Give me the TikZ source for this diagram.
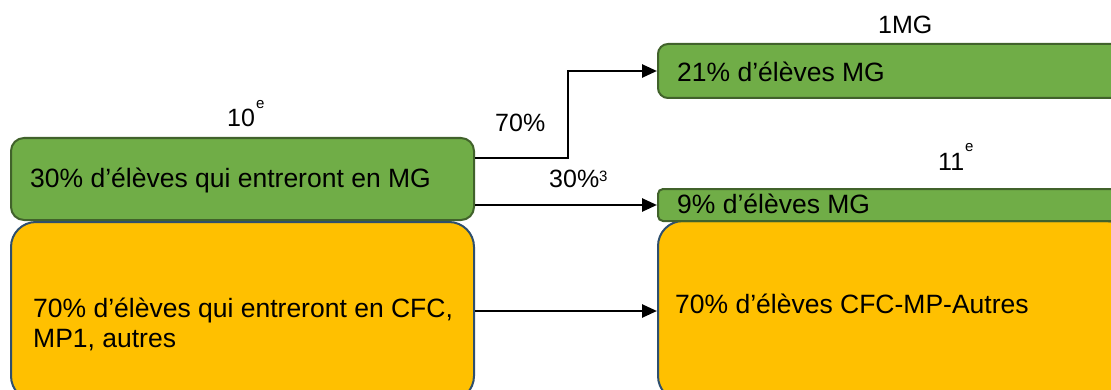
\documentclass[tikz,border=0pt]{standalone}
\usepackage{fontspec}
\setmainfont{Liberation Sans}
\usetikzlibrary{positioning,arrows.meta}
\definecolor{mggreen}{HTML}{70AD47}
\definecolor{mgborder}{HTML}{41622B}
\definecolor{cfcorange}{HTML}{FFC000}
\definecolor{cfcborder}{HTML}{2E4F6E}

\begin{document}
\begin{tikzpicture}[x=1pt,y=1pt,
    greenbox/.style={draw=mgborder,fill=mggreen,line width=2pt,anchor=north west,inner sep=0pt},
    orangebox/.style={draw=cfcborder,fill=cfcorange,line width=2pt,anchor=north west,inner sep=0pt,rounded corners=25pt},
    boxtext/.style={anchor=base west,inner sep=0pt,font=\fontsize{26.5}{30}\selectfont,align=left},
    headtext/.style={anchor=base west,inner sep=0pt,font=\fontsize{25}{30}\selectfont},
    flow/.style={line width=2.6pt,-{Triangle[length=15pt,width=13pt]}}]
    \useasboundingbox (0,0) rectangle (1111,389);
    \clip (0,0) rectangle (1111,389);

    % boxes, orange first so the green ones sit on top
    \node[orangebox,minimum width=463pt,minimum height=179pt] (cfc10) at (10,168) {};
    \node[orangebox,minimum width=473pt,minimum height=180pt] (cfc11) at (657,169) {};
    \node[greenbox,rounded corners=13pt,minimum width=463pt,minimum height=82pt] (mg10) at (10,252) {};
    \node[greenbox,rounded corners=10pt,minimum width=473pt,minimum height=54pt] (mg1) at (657,346) {};
    \node[greenbox,rounded corners=5pt,minimum width=473pt,minimum height=32pt] (mg11) at (657,201) {};

    % box texts
    \node[boxtext] (tmg10) at ([shift={(20,-50)}]mg10.north west) {30\% d’élèves qui entreront en MG};
    \node[boxtext] (tcfc10) at ([shift={(23,-126)}]cfc10.north west) {70\% d’élèves qui entreront en CFC,\\MP1, autres};
    \node[boxtext] (tmg1) at ([shift={(20,-39)}]mg1.north west) {21\% d’élèves MG};
    \node[boxtext] (tmg11) at ([shift={(20,-25)}]mg11.north west) {9\% d’élèves MG};
    \node[boxtext] (tcfc11) at ([shift={(18,-93)}]cfc11.north west) {70\% d’élèves CFC-MP-Autres};

    % headings and rates
    \node[headtext] (h10) at (227,262) {10\hspace{1pt}\raisebox{18pt}{\fontsize{15}{15}\selectfont e}};
    \node[headtext] (h1mg) at (878,355) {1MG};
    \node[headtext] (h11) at (938,219) {11\hspace{1pt}\raisebox{18pt}{\fontsize{15}{15}\selectfont e}};
    \node[headtext] (p70) at (495,258) {70\%};
    \node[headtext] (p30) at (549,202) {30\%\raisebox{5pt}{\fontsize{15}{15}\selectfont 3}};

    % connectors
    \draw[flow] ([yshift=21pt]mg10.east) -- ++(93,0) |- (mg1.west);
    \draw[flow] (mg10.east |- mg11.west) -- (mg11.west);
    \draw[flow] (cfc10.east |- cfc11.west) -- (cfc11.west);
\end{tikzpicture}
\end{document}
